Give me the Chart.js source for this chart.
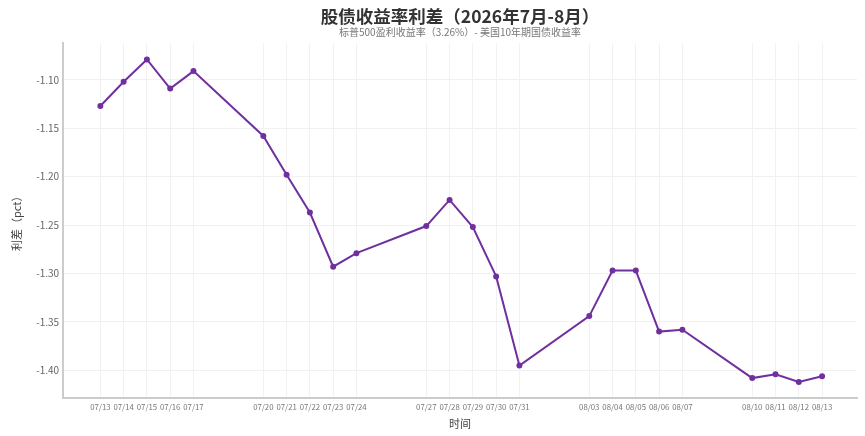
<!DOCTYPE html>
<html>
<head>
<meta charset="utf-8">
<script src="https://cdn.jsdelivr.net/npm/chart.js@4.4.0/dist/chart.umd.min.js"></script>
<style>
  html, body { margin: 0; padding: 0; background: #fff; }
  #wrap { width: 865px; height: 436px; }
</style>
</head>
<body>
<div id="wrap"><canvas id="myChart" width="865" height="436"></canvas></div>
<script>
// trading days, 2026
const dates = ['07/13', '07/14', '07/15', '07/16', '07/17',
               '07/20', '07/21', '07/22', '07/23', '07/24',
               '07/27', '07/28', '07/29', '07/30', '07/31',
               '08/03', '08/04', '08/05', '08/06', '08/07',
               '08/10', '08/11', '08/12', '08/13'];
// spread (pct)
const spread = [-1.127, -1.102, -1.079, -1.109, -1.091,
                -1.158, -1.198, -1.237, -1.293, -1.279,
                -1.251, -1.224, -1.252, -1.303, -1.395,
                -1.344, -1.297, -1.297, -1.360, -1.358,
                -1.408, -1.404, -1.412, -1.406];
const yTicks = [-1.40, -1.35, -1.30, -1.25, -1.20, -1.15, -1.10];

const title = '股债收益率利差（2026年7月-8月）';
const subtitle = '标普500盈利收益率（3.26%）- 美国10年期国债收益率';

const FONT = "'Noto Sans CJK SC', 'Noto Sans', sans-serif";

// day number of each date, counted from the first one
function dayOf(s) {
    const [m, d] = s.split('/').map(Number);
    return Date.UTC(2026, m - 1, d) / 86400000;
}
const day0 = dayOf(dates[0]);
const xs = dates.map(s => dayOf(s) - day0);
const points = xs.map((x, i) => ({ x: x, y: spread[i] }));

// title + subtitle centred over the plot area
const headerPlugin = {
    id: 'header',
    afterDraw(chart) {
        const c = chart.ctx;
        const cx = (chart.chartArea.left + chart.chartArea.right) / 2;
        c.save();
        c.textAlign = 'center';
        c.textBaseline = 'middle';
        c.fillStyle = '#333';
        c.font = 'bold 17.5px ' + FONT;
        c.fillText(title, cx, 16);
        c.fillStyle = '#777';
        c.font = '10px ' + FONT;
        c.fillText(subtitle, cx, 32);
        c.restore();
    }
};

const ctx = document.getElementById('myChart').getContext('2d');
const myChart = new Chart(ctx, {
    type: 'line',
    data: {
        datasets: [{
            label: '利差',
            data: points,
            borderColor: '#7030a0',
            backgroundColor: '#7030a0',
            borderWidth: 2,
            pointRadius: 2,
            pointHoverRadius: 4,
            tension: 0
        }]
    },
    plugins: [headerPlugin],
    options: {
        responsive: false,
        animation: false,
        layout: { padding: { left: 6, right: 8, top: 43, bottom: 2 } },
        plugins: {
            legend: { display: false },
            tooltip: { enabled: true }
        },
        scales: {
            x: {
                type: 'linear',
                min: -1.6,
                max: xs[xs.length - 1] + 1.5,
                afterBuildTicks: axis => { axis.ticks = xs.map(v => ({ value: v })); },
                ticks: {
                    autoSkip: false,
                    maxRotation: 0,
                    color: '#777',
                    padding: 4,
                    font: { family: FONT, size: 7.8 },
                    callback: (v) => dates[xs.indexOf(v)]
                },
                grid: { color: '#f1f1f1', drawTicks: false },
                border: { color: '#cccccc', width: 2 },
                title: {
                    display: true,
                    text: '时间',
                    color: '#444',
                    font: { family: FONT, size: 11 },
                    padding: { top: 1 }
                }
            },
            y: {
                min: -1.429,
                max: -1.062,
                afterBuildTicks: axis => { axis.ticks = yTicks.map(v => ({ value: v })); },
                ticks: {
                    color: '#666',
                    font: { family: FONT, size: 10 },
                    padding: 4,
                    callback: v => v.toFixed(2)
                },
                grid: { color: '#f1f1f1', drawTicks: false },
                border: { color: '#cccccc', width: 2 },
                title: {
                    display: true,
                    text: '利差（pct）',
                    color: '#444',
                    font: { family: FONT, size: 11 },
                    padding: { bottom: 9 }
                }
            }
        }
    }
});
</script>
</body>
</html>
